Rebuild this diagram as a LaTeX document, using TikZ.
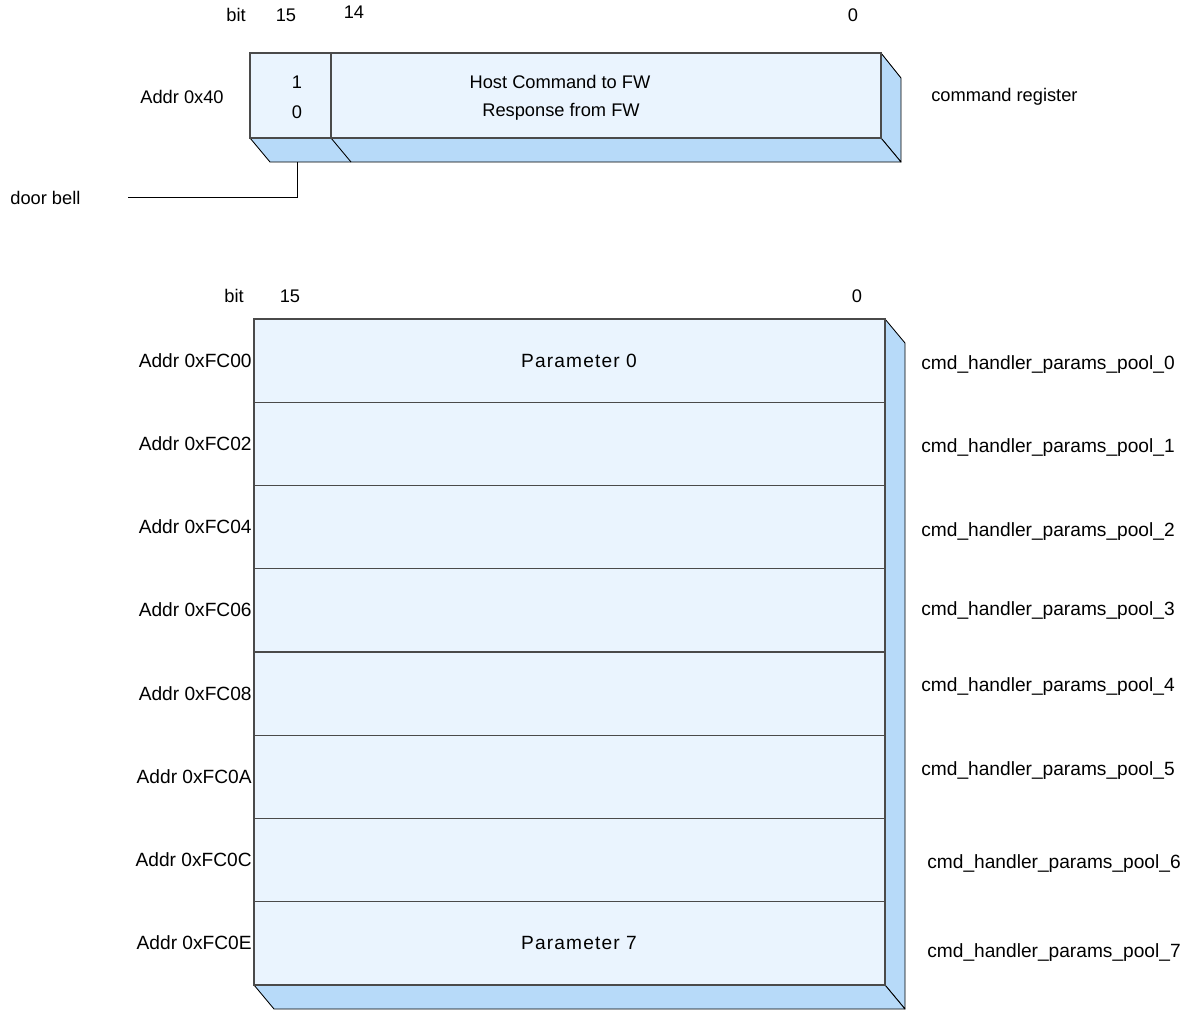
\documentclass[tikz,border=0pt]{standalone}
\usepackage{fontspec}
\setmainfont{Liberation Sans}
\usepackage{tikz}
\usetikzlibrary{calc}

\definecolor{faceblue}{HTML}{EAF4FE}
\definecolor{sideblue}{HTML}{B7DAF9}
\definecolor{edgegray}{HTML}{4A4A4A}

\tikzset{
  front/.style={fill=faceblue,draw=edgegray,line width=0.6pt},
  side/.style={fill=sideblue,draw=black,line width=0.5pt,line join=round},
  lbl/.style={inner sep=0pt,font=\fontsize{10.4}{12}\selectfont},
  biglbl/.style={inner sep=0pt,font=\fontsize{10.9}{12}\selectfont},
  spaced/.style={inner sep=0pt,font=\fontsize{10.9}{12}\selectfont\addfontfeature{LetterSpace=6}},
  addr/.style={biglbl,anchor=east},
  pool/.style={biglbl,anchor=west},
}

\begin{document}
\begin{tikzpicture}[x=0.02cm,y=-0.02cm]
            \useasboundingbox (0,0) rectangle (1188,1009);

            % command register
            \draw[side] (881,53) -- (901,78) -- (901,162) -- (881,138) -- cycle;
            \draw[side] (250,138) -- (881,138) -- (901,162) -- (270,162) -- cycle;
            \draw[side] (331,138) -- (351,162);
            \draw[front] (250,53) rectangle (881,138);
            \draw[front] (331,53) -- (331,138);

            \node[lbl] (cbit) at (236,15) {bit};
            \node[lbl] (cb15) at (286,15) {15};
            \node[lbl] (cb14) at (354,12) {14};
            \node[lbl] (cb0) at (853,15) {0};
            \node[lbl] (one) at (297,82) {1};
            \node[lbl] (zero) at (297,112) {0};
            \node[lbl] (hostcmd) at (560,82) {Host Command to FW};
            \node[lbl] (resp) at (561,112) {Response from FW};
            \node[lbl] (caddr) at (182,97) {Addr 0x40};
            \node[lbl,anchor=west] (cmdreg) at (931,97) {command register};
            \node[lbl,anchor=west] (bell) at (10,198) {door bell};

            \coordinate (bellend) at (128,197);
            \coordinate (bellbox) at (297,162);
            \draw[line width=0.5pt] (bellbox) |- (bellend);

            % parameter pool
            \draw[side] (885,319) -- (905,343) -- (905,1009) -- (885,985) -- cycle;
            \draw[side] (254,985) -- (885,985) -- (905,1009) -- (274,1009) -- cycle;
            \draw[front] (254,319) rectangle (885,985);
            \draw[front] (254,402.25) -- (885,402.25);
            \draw[front] (254,485.5) -- (885,485.5);
            \draw[front] (254,568.75) -- (885,568.75);
            \draw[front] (254,652) -- (885,652);
            \draw[front] (254,735.25) -- (885,735.25);
            \draw[front] (254,818.5) -- (885,818.5);
            \draw[front] (254,901.75) -- (885,901.75);

            \node[lbl] (pbit) at (234,296) {bit};
            \node[lbl] (pb15) at (290,296) {15};
            \node[lbl] (pb0) at (857,296) {0};
            \node[spaced] (par0) at (579,361) {Parameter 0};
            \node[spaced] (par7) at (579,943) {Parameter 7};

            \node[addr] (a0) at (252,361) {Addr 0xFC00};
            \node[addr] (a1) at (252,444) {Addr 0xFC02};
            \node[addr] (a2) at (252,527) {Addr 0xFC04};
            \node[addr] (a3) at (252,610) {Addr 0xFC06};
            \node[addr] (a4) at (252,694) {Addr 0xFC08};
            \node[addr] (a5) at (252,777) {Addr 0xFC0A};
            \node[addr] (a6) at (252,860) {Addr 0xFC0C};
            \node[addr] (a7) at (252,943) {Addr 0xFC0E};

            \node[pool] (pool0) at (921,365) {cmd\_handler\_params\_pool\_0};
            \node[pool] (pool1) at (921,448) {cmd\_handler\_params\_pool\_1};
            \node[pool] (pool2) at (921,532) {cmd\_handler\_params\_pool\_2};
            \node[pool] (pool3) at (921,611) {cmd\_handler\_params\_pool\_3};
            \node[pool] (pool4) at (921,687) {cmd\_handler\_params\_pool\_4};
            \node[pool] (pool5) at (921,771) {cmd\_handler\_params\_pool\_5};
            \node[pool] (pool6) at (927,864) {cmd\_handler\_params\_pool\_6};
            \node[pool] (pool7) at (927,953) {cmd\_handler\_params\_pool\_7};
\end{tikzpicture}
\end{document}
